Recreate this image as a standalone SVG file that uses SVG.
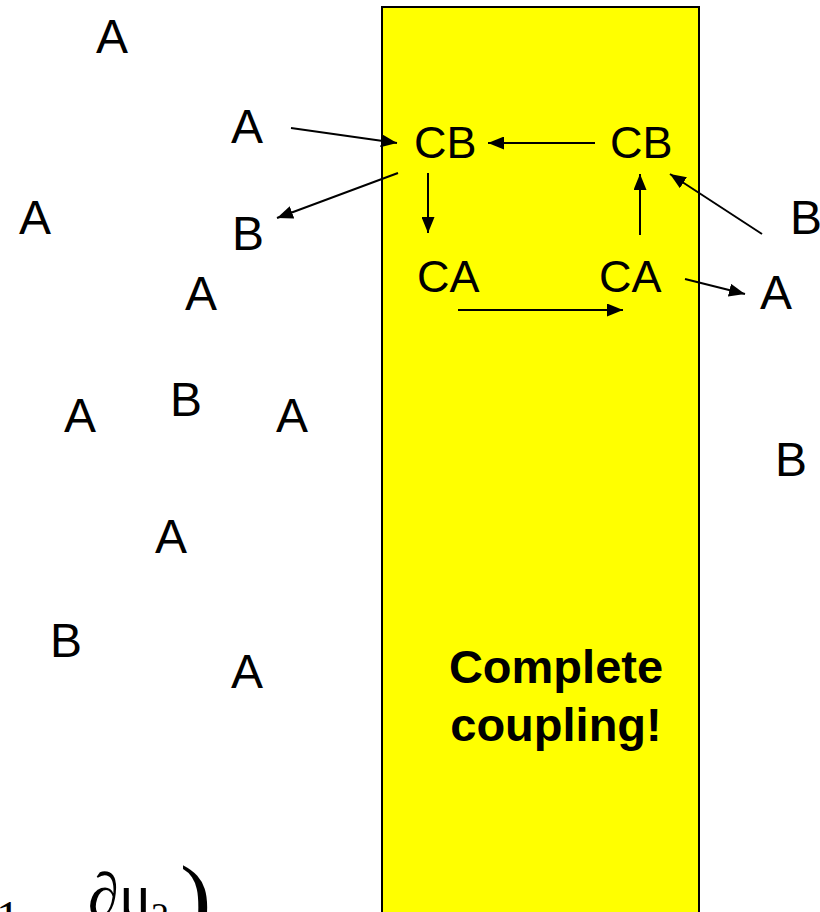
<svg xmlns="http://www.w3.org/2000/svg" width="820" height="912" viewBox="0 0 820 912">
  <defs>
    <style>
      .lbl { font-family: "Liberation Sans", Arial, sans-serif; font-size: 48px; fill: #000; }
      .cpx { font-family: "Liberation Sans", Arial, sans-serif; font-size: 45px; fill: #000; }
      .note { font-family: "Liberation Sans", Arial, sans-serif; font-size: 47px; font-weight: bold; fill: #000; text-anchor: middle; }
      .math { font-family: "Liberation Serif", "Times New Roman", serif; fill: #000; }
      .edge { stroke: #000; stroke-width: 2; fill: none; marker-end: url(#head); }
    </style>
    <marker id="head" viewBox="0 0 16 13" refX="16" refY="6.5" markerWidth="16" markerHeight="13" markerUnits="userSpaceOnUse" orient="auto">
      <path d="M0,0 L16,6.5 L0,13 z" fill="#000"/>
    </marker>
  </defs>

  <rect width="820" height="912" fill="#fff"/>

  <!-- membrane region where complexes form -->
  <g id="region">
    <rect x="382" y="7" width="317" height="920" fill="#ffff00" stroke="#000" stroke-width="2"/>
    <text class="note" x="556" y="683">Complete</text>
    <text class="note" x="556" y="741">coupling!</text>
  </g>

  <!-- free molecules -->
  <g id="a1"><text class="lbl" x="96" y="53">A</text></g>
  <g id="a2"><text class="lbl" x="231" y="143">A</text></g>
  <g id="a3"><text class="lbl" x="19" y="234">A</text></g>
  <g id="b1"><text class="lbl" x="232" y="250">B</text></g>
  <g id="a4"><text class="lbl" x="185" y="310">A</text></g>
  <g id="a5"><text class="lbl" x="64" y="432">A</text></g>
  <g id="b2"><text class="lbl" x="170" y="416">B</text></g>
  <g id="a6"><text class="lbl" x="276" y="432">A</text></g>
  <g id="a7"><text class="lbl" x="155" y="553">A</text></g>
  <g id="b3"><text class="lbl" x="50" y="657">B</text></g>
  <g id="a8"><text class="lbl" x="231" y="688">A</text></g>
  <g id="b4"><text class="lbl" x="790" y="234">B</text></g>
  <g id="a9"><text class="lbl" x="760" y="309">A</text></g>
  <g id="b5"><text class="lbl" x="775" y="476">B</text></g>

  <!-- bound complexes -->
  <g id="cb1"><text class="cpx" x="414" y="158">CB</text></g>
  <g id="cb2"><text class="cpx" x="610" y="158">CB</text></g>
  <g id="ca1"><text class="cpx" x="417" y="292">CA</text></g>
  <g id="ca2"><text class="cpx" x="599" y="292">CA</text></g>

  <!-- reaction arrows -->
  <g id="connectors">
    <line class="edge" x1="291" y1="128" x2="397" y2="143"/>
    <line class="edge" x1="398" y1="173" x2="277" y2="218"/>
    <line class="edge" x1="428" y1="173" x2="428" y2="233"/>
    <line class="edge" x1="595" y1="143" x2="488" y2="143"/>
    <line class="edge" x1="458" y1="310" x2="623" y2="310"/>
    <line class="edge" x1="640" y1="235" x2="640" y2="174"/>
    <line class="edge" x1="762" y1="234" x2="670" y2="174"/>
    <line class="edge" x1="685" y1="279" x2="745" y2="294"/>
  </g>

  <!-- equation fragment at the lower edge -->
  <g id="equation">
    <text class="math" x="-4" y="934" font-size="48">1</text>
    <text class="math" x="88" y="916" font-size="62">∂μ</text>
    <text class="math" x="151" y="928" font-size="36">2</text>
    <text class="math" x="180" y="930" font-size="94">)</text>
  </g>
</svg>
